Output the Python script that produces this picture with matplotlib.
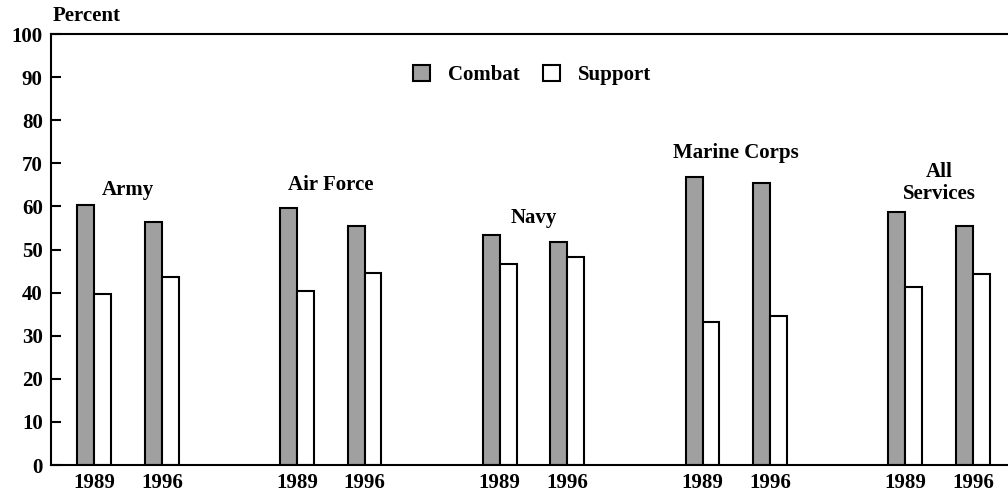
import matplotlib.pyplot as plt
import numpy as np

services = ['Army', 'Air Force', 'Navy', 'Marine Corps', 'All\nServices']
years = ['1989', '1996']
combat = [[60.3, 56.4], [59.6, 55.5], [53.4, 51.7], [66.8, 65.4], [58.8, 55.5]]
support = [[39.7, 43.6], [40.4, 44.5], [46.6, 48.3], [33.1, 34.6], [41.2, 44.3]]
label_y = [63.8, 65.0, 57.2, 72.3, 65.4]

plt.rcParams['font.family'] = ['Liberation Serif', 'DejaVu Serif']
plt.rcParams['font.weight'] = 'bold'

fig = plt.figure(figsize=(10.08, 4.95), dpi=100)
ax = fig.add_axes([0.0506, 0.0606, 0.9494, 0.8707])

width = 0.25
pos = []
for g in range(len(services)):
    for k in range(len(years)):
        pos.append(g * 3 + k)
pos = np.array(pos, dtype=float)
combat_vals = np.array(combat).ravel()
support_vals = np.array(support).ravel()

ax.bar(pos - width / 2, combat_vals, width, color='#a0a0a0', edgecolor='black',
       linewidth=1.5, label='Combat')
ax.bar(pos + width / 2, support_vals, width, color='white', edgecolor='black',
       linewidth=1.5, label='Support')

for g, name in enumerate(services):
    ax.text(g * 3 + 0.5, label_y[g], name, ha='center', va='center',
            fontsize=15, fontweight='bold', linespacing=1.15)

ax.set_xlim(-0.64, 13.52)
ax.set_ylim(0, 100)
ax.set_yticks(range(0, 101, 10))
ax.set_xticks(pos)
ax.set_xticklabels(years * len(services))
ax.tick_params(axis='y', direction='in', length=7, width=1.5, labelsize=15, pad=6)
ax.tick_params(axis='x', length=0, labelsize=15, pad=6)
for lab in ax.get_xticklabels() + ax.get_yticklabels():
    lab.set_fontweight('bold')

ax.spines['right'].set_visible(False)
for s in ['left', 'top', 'bottom']:
    ax.spines[s].set_linewidth(1.5)

fig.text(0.052, 0.968, 'Percent', ha='left', va='center', fontsize=15, fontweight='bold')

ax.legend(loc='center', bbox_to_anchor=(0.528, 0.849), bbox_transform=fig.transFigure,
          ncol=2, frameon=False, handlelength=0.8, handleheight=0.8,
          handletextpad=0.9, columnspacing=1.1, prop={'size': 15, 'weight': 'bold'})

fig.savefig('out.png', dpi=100)
